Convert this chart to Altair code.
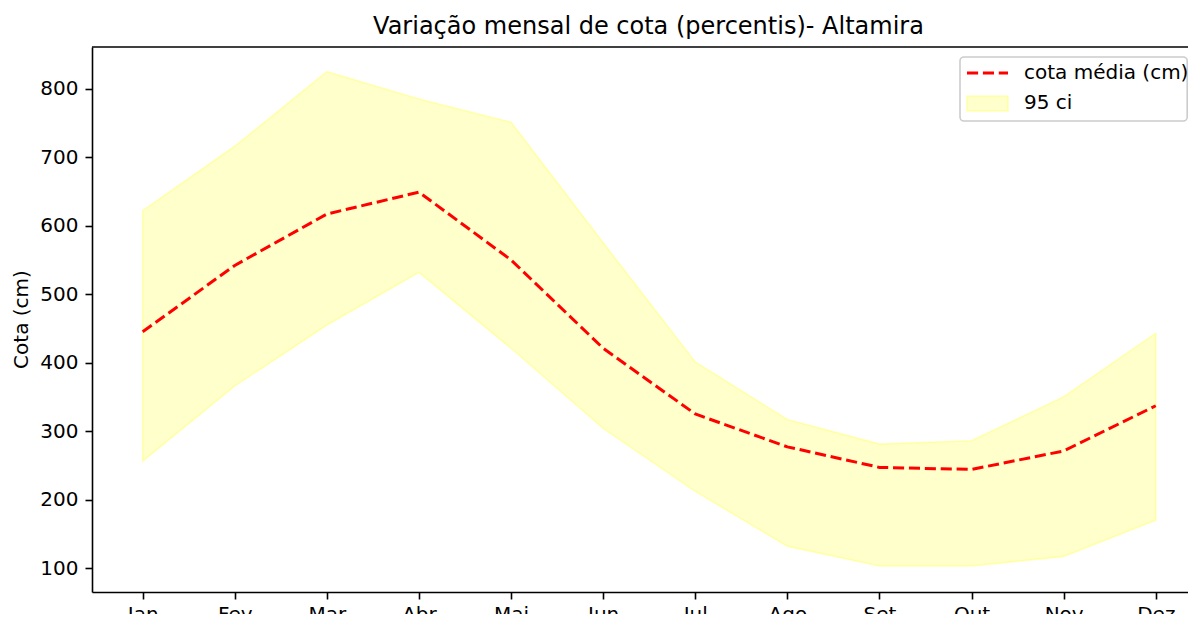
import altair as alt
import pandas as pd

months = ["Jan", "Fev", "Mar", "Abr", "Mai", "Jun", "Jul", "Ago", "Set", "Out", "Nov", "Dez"]
mean_cm = [445, 542, 617, 649, 550, 421, 325, 277, 247, 244, 271, 337]
upper_cm = [622, 716, 825, 785, 751, 575, 401, 317, 281, 286, 350, 443]
lower_cm = [256, 366, 455, 532, 421, 304, 212, 132, 103, 103, 117, 170]
y_ticks = [100, 200, 300, 400, 500, 600, 700, 800]
legend_labels = ["cota média (cm)", "95 ci"]

df = pd.DataFrame({
    "idx": list(range(len(months))),
    "mes": months,
    "media": mean_cm,
    "sup": upper_cm,
    "inf": lower_cm,
})

FONT = "DejaVu Sans"
FS = 20
W, H = 1096, 545
LW = 3
DASH = [11.1, 4.8]
SPINE = 1.6

label_expr = "[" + ",".join("'%s'" % m for m in months) + "][datum.value]"

x_enc = alt.X(
    "idx:Q",
    scale=alt.Scale(domain=[-0.55, 11.35], nice=False, zero=False),
    axis=alt.Axis(
        values=list(range(len(months))), labelExpr=label_expr, title=None, grid=False,
        domain=True, domainColor="black", domainWidth=SPINE,
        ticks=True, tickSize=7, tickWidth=SPINE, tickColor="black",
        labelPadding=5, labelFont=FONT, labelFontSize=FS, labelColor="black",
        labelFlush=False, labelOverlap=False,
    ),
)
y_scale = alt.Scale(domain=[65, 861], nice=False, zero=False)
y_axis = alt.Axis(
    values=y_ticks, title="Cota (cm)", grid=False,
    domain=True, domainColor="black", domainWidth=SPINE,
    ticks=True, tickSize=7, tickWidth=SPINE, tickColor="black",
    labelPadding=7, labelFont=FONT, labelFontSize=FS, labelColor="black",
    titleFont=FONT, titleFontSize=FS, titleFontWeight="normal", titleColor="black",
    titleX=-71, titleY=272, titleAngle=270, titleBaseline="middle", titleAlign="center",
)

base = alt.Chart(df)

area = base.mark_area(
    fill="yellow", fillOpacity=0.2, stroke="yellow", strokeOpacity=0.25, strokeWidth=1.6
).encode(
    x=x_enc,
    y=alt.Y("inf:Q", scale=y_scale, axis=y_axis),
    y2="sup:Q",
)

line = base.mark_line(color="red", strokeWidth=LW, strokeDash=DASH).encode(
    x=x_enc,
    y=alt.Y("media:Q", scale=y_scale, axis=y_axis),
)

one = alt.Chart(pd.DataFrame({"k": [0]}))

top_spine = one.mark_rule(color="black", strokeWidth=SPINE).encode(
    x=alt.value(0), x2=alt.value(W), y=alt.value(0)
)

leg_box = one.mark_rect(
    fill="white", fillOpacity=0.8, stroke="#cccccc", strokeWidth=1.6, cornerRadius=4
).encode(x=alt.value(868), x2=alt.value(W - 0.8), y=alt.value(10), y2=alt.value(74))

leg_dash = one.mark_rule(color="red", strokeWidth=LW, strokeDash=DASH).encode(
    x=alt.value(875), x2=alt.value(916), y=alt.value(26)
)

leg_patch = one.mark_rect(
    fill="yellow", fillOpacity=0.2, stroke="yellow", strokeOpacity=0.25, strokeWidth=1.6
).encode(x=alt.value(875), x2=alt.value(916), y=alt.value(49), y2=alt.value(64))

leg_t1 = one.mark_text(
    align="left", baseline="middle", font=FONT, fontSize=FS, color="black"
).encode(x=alt.value(932), y=alt.value(26), text=alt.value(legend_labels[0]))

leg_t2 = one.mark_text(
    align="left", baseline="middle", font=FONT, fontSize=FS, color="black"
).encode(x=alt.value(932), y=alt.value(56), text=alt.value(legend_labels[1]))

chart = alt.layer(
    area, line, top_spine, leg_box, leg_dash, leg_patch, leg_t1, leg_t2
).properties(
    width=W,
    height=H,
    title=alt.TitleParams(
        "Variação mensal de cota (percentis)- Altamira",
        font=FONT, fontSize=24, fontWeight="normal", color="black",
        anchor="middle", dx=8.5, dy=23, offset=11, baseline="alphabetic",
    ),
    padding={"left": 84, "top": 39, "right": 0, "bottom": 22},
    autosize=alt.AutoSizeParams(type="none"),
).configure_view(stroke=None)

chart.save("out.html", embed_options={"renderer": "svg", "actions": False})
